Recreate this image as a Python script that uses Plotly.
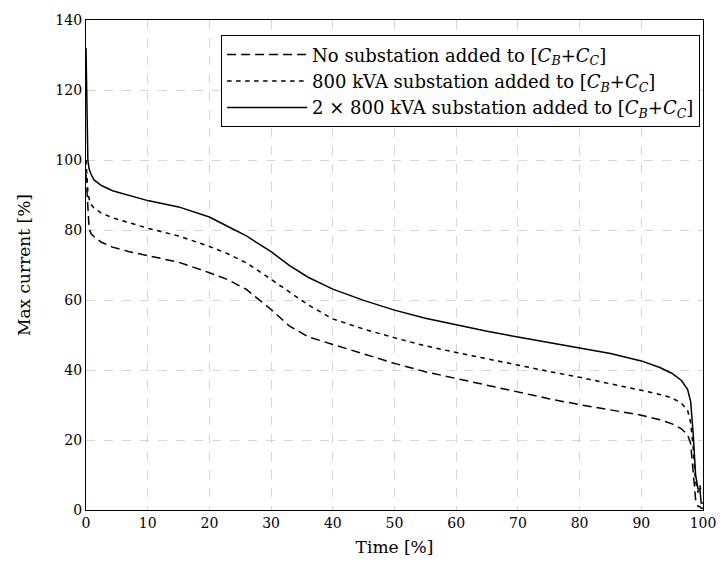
import plotly.graph_objects as go

# Time axis (percent of the period), shared by the three duration curves
time_pct = [0, 0.15, 0.3, 0.5, 0.8, 1.3, 2.5, 4.3, 7, 10, 15, 20, 23, 26, 30, 33, 36,
            40, 45, 50, 55, 60, 65, 70, 75, 80, 85, 90, 93, 95, 96.5, 97.5, 98,
            98.4, 98.8, 99.2, 99.5, 99.7, 100]

# Max current [%] for each configuration
no_sub = [96, 90, 84, 80.5, 79, 78.1, 76.5, 75.1, 73.8, 72.7, 70.8, 67.8, 65.8, 63, 57.3,
          52.5, 49.5, 47.3, 44.5, 41.9, 39.5, 37.6, 35.5, 33.6, 31.8, 30.1, 28.6, 27.1,
          25.8, 24.6, 23.2, 21.5, 19, 12, 3, 1, 1, 0.5, 0.5]
one_sub = [100, 95, 91, 88.9, 87.3, 86.3, 84.8, 83.5, 82, 80.5, 78.3, 75.3, 73.2, 70.6,
           65.9, 62.2, 58.6, 54.6, 51.7, 49.2, 46.9, 45, 43.2, 41.2, 39.6, 37.9, 36.1,
           34.2, 33, 32, 30.5, 28.5, 25, 18, 8, 5, 7, 5, 5]
two_sub = [132, 112, 100, 97.5, 96, 94.3, 92.7, 91.2, 89.8, 88.4, 86.6, 83.7, 81, 78.3,
           73.8, 69.8, 66.5, 63.1, 59.9, 57.1, 54.8, 52.9, 51.1, 49.4, 47.9, 46.4, 44.7,
           42.6, 40.7, 39, 37, 34.5, 31, 22, 10, 6, 6, 2, 2]

cc = "[<i>C</i><sub><i>B</i></sub>+<i>C</i><sub><i>C</i></sub>]"
names = [
    "No substation added to " + cc,
    "800 kVA substation added to " + cc,
    "2 × 800 kVA substation added to " + cc,
]
series = [no_sub, one_sub, two_sub]
dashes = ["9px,5px", "4.5px,4.5px", "solid"]

fig = go.Figure()
for name, vals, dash in zip(names, series, dashes):
    fig.add_trace(go.Scatter(
        x=time_pct, y=vals, mode="lines", name=name,
        line=dict(color="black", width=1.5, dash=dash),
    ))

font_family = "DejaVu Serif"
axis_common = dict(
    showline=True, linecolor="black", linewidth=1.2, mirror=True,
    showgrid=True, gridcolor="#d6d6d6", griddash="dash", gridwidth=1,
    ticks="", zeroline=False,
    tickfont=dict(family=font_family, size=14, color="black"),
)

fig.update_layout(
    width=728, height=566,
    margin=dict(l=86, r=14, t=16, b=55),
    plot_bgcolor="white", paper_bgcolor="white",
    font=dict(family=font_family, size=16, color="black"),
    xaxis=dict(range=[0, 100], dtick=10,
               title=dict(text="Time [%]", font=dict(family=font_family, size=17),
                          standoff=11),
               **axis_common),
    yaxis=dict(range=[0, 140], dtick=20,
               title=dict(text="Max current [%]", font=dict(family=font_family, size=17),
                          standoff=20),
               **axis_common),
    legend=dict(
        x=0.995, y=0.969, xanchor="right", yanchor="top",
        bgcolor="white", bordercolor="black", borderwidth=1.2,
        font=dict(family=font_family, size=18), tracegroupgap=0,
        itemwidth=80,
    ),
    showlegend=True,
)

fig.write_html("out.html")
